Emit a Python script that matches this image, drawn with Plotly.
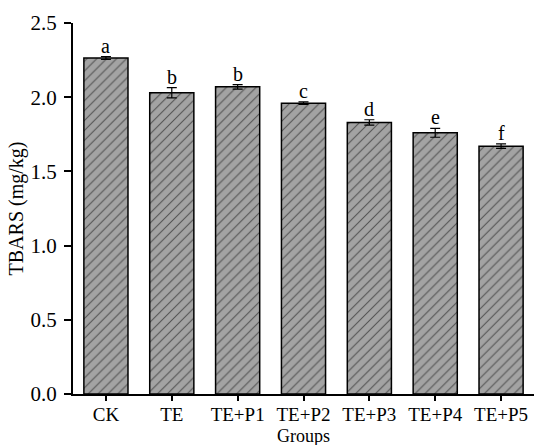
import plotly.graph_objects as go

groups = ["CK", "TE", "TE+P1", "TE+P2", "TE+P3", "TE+P4", "TE+P5"]
tbars = [2.264, 2.03, 2.07, 1.96, 1.83, 1.76, 1.67]
errors = [0.01, 0.035, 0.015, 0.008, 0.018, 0.03, 0.015]
letters = ["a", "b", "b", "c", "d", "e", "f"]
yticks = [0.0, 0.5, 1.0, 1.5, 2.0, 2.5]

FONT = "Liberation Serif, Times New Roman, serif"

fig = go.Figure()
fig.add_trace(go.Bar(
    x=groups, y=tbars, width=0.67,
    marker=dict(
        color="#a3a3a3",
        line=dict(color="black", width=1.5),
        pattern=dict(shape="/", fgcolor="black", bgcolor="#a3a3a3", size=7, solidity=0.15),
    ),
    error_y=dict(type="data", array=errors, visible=True, color="black", thickness=1.2, width=5),
    showlegend=False,
))

for g, v, e, l in zip(groups, tbars, errors, letters):
    fig.add_annotation(x=g, y=v + e, text=l, showarrow=False, yanchor="bottom",
                       yshift=-2, font=dict(family=FONT, size=20, color="black"))

fig.add_annotation(x=0.5, xref="paper", y=-0.112, yref="paper", text="Groups",
                   showarrow=False, yanchor="middle", xanchor="center",
                   borderpad=0,
                   font=dict(family=FONT, size=18, color="black"))

fig.update_layout(
    width=534, height=445,
    margin=dict(l=73, r=0, t=23, b=51),
    plot_bgcolor="white", paper_bgcolor="white",
    font=dict(family=FONT, size=20, color="black"),
)
fig.update_xaxes(
    range=[-0.5, 6.5], showline=True, linecolor="black", linewidth=2,
    ticks="outside", ticklen=5, tickwidth=1.5, tickcolor="black", ticklabelstandoff=-3,
    tickfont=dict(family=FONT, size=19),
)
fig.update_yaxes(
    range=[0, 2.5], tickvals=yticks, ticktext=[f"{t:.1f}" for t in yticks],
    showline=True, linecolor="black", linewidth=2, showgrid=False, zeroline=False,
    ticks="outside", ticklen=7, tickwidth=1.5, tickcolor="black", ticklabelstandoff=3,
    title=dict(text="TBARS (mg/kg)", standoff=2, font=dict(family=FONT, size=20)),
    tickfont=dict(family=FONT, size=21),
)

fig.write_html("out.html", config={"displayModeBar": False},
               post_script="document.body.style.margin='0';document.body.style.overflow='hidden';")
